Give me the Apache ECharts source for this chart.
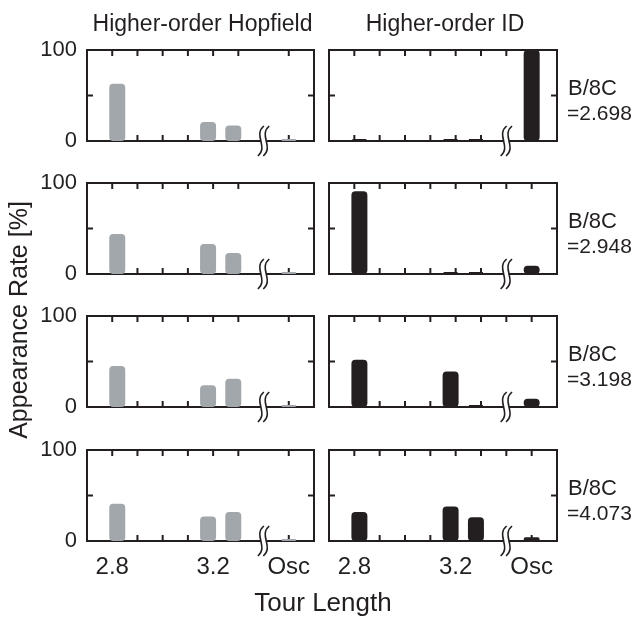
<!DOCTYPE html>
<html>
<head>
<meta charset="utf-8">
<script src="https://cdn.jsdelivr.net/npm/echarts@6/dist/echarts.min.js"></script>
<style>
  html, body { margin: 0; padding: 0; background: #ffffff; }
  #chart { width: 634px; height: 621px; }
</style>
</head>
<body>
<div id="chart"></div>
<script>
// ---------------- data ----------------
const columnTitles = ['Higher-order Hopfield', 'Higher-order ID'];
const bOver8C = ['2.698', '2.948', '3.198', '4.073'];
const tourLengths = [2.82, 3.18, 3.28];           // tour-length bins that occur
const xTickValues = [2.8, 2.9, 3.0, 3.1, 3.2, 3.3, 3.4, 3.5];
const xLabelValues = [2.8, 3.2, 3.5];
const oscLabel = 'Osc';
const yTickValues = [0, 50, 100];
const yLabelValues = [0, 100];

// appearance rate [%] : [2.82, 3.18, 3.28, Osc]
const hopfield2698 = [63, 21, 17, 0];
const hopfield2948 = [44, 33, 23, 0];
const hopfield3198 = [45, 24, 31, 0];
const hopfield4073 = [41, 27, 32, 0];
const id2698 = [0, 0, 0, 100];
const id2948 = [91, 0, 0, 9];
const id3198 = [52, 39, 0, 9];
const id4073 = [32, 38, 26, 4];

// ---------------- layout / style ----------------
const hopfieldRows = [hopfield2698, hopfield2948, hopfield3198, hopfield4073];
const idRows = [id2698, id2948, id3198, id4073];
const INK = '#231f20';
const GRAY = '#a2a7ab';
const FONT = '"Liberation Sans", Arial, Helvetica, sans-serif';
const OSC_SLOT = 3.5;   // x slot where the oscillation bar sits
const BREAK_AT = 3.4;   // axis break mark
const TICK_LEN = 6;
const colLeft = [87, 329];
const colWidth = [227, 228];
const rowTop = [50, 183, 316, 450];
const rowHeight = 91;

const grids = [], xAxes = [], yAxes = [], series = [];
let g = 0;
for (let r = 0; r < 4; r++) {
  for (let c = 0; c < 2; c++) {
    grids.push({
      left: colLeft[c], top: rowTop[r], width: colWidth[c], height: rowHeight,
      show: true, borderColor: INK, borderWidth: 2, backgroundColor: 'transparent'
    });
    const bottomRow = r === 3;
    xAxes.push({
      gridIndex: g, type: 'value', position: 'bottom', min: 2.7, max: 3.6, interval: 0.1,
      axisLine: { show: false }, splitLine: { show: false }, axisTick: { show: false },
      axisLabel: {
        show: bottomRow, customValues: xLabelValues, color: INK, fontSize: 24, fontFamily: FONT, margin: 14,
        formatter: v => (Math.abs(v - OSC_SLOT) < 1e-6 ? oscLabel : Number(v).toFixed(1))
      }
    });
    yAxes.push({
      gridIndex: g, type: 'value', position: 'left', min: 0, max: 100, interval: 50,
      axisLine: { show: false }, splitLine: { show: false }, axisTick: { show: false },
      axisLabel: { show: c === 0, customValues: yLabelValues, color: INK, fontSize: 22, fontFamily: FONT, margin: 10 }
    });
    const vals = c === 0 ? hopfieldRows[r] : idRows[r];
    const xs = tourLengths.concat([OSC_SLOT]);
    const color = c === 0 ? GRAY : INK;
    series.push({
      type: 'bar', xAxisIndex: g, yAxisIndex: g,
      data: xs.map((x, i) => [x, vals[i]]),
      barWidth: 16, barMinHeight: 2, clip: false, silent: true, z: 3,
      itemStyle: { color: color, borderColor: color, borderWidth: 2, borderRadius: 3 }
    });
    // inward ticks on all four sides of the frame
    const topTicks = c === 0 ? xTickValues.filter(v => v !== BREAK_AT) : xTickValues;
    const bottomTicks = xTickValues.filter(v => v !== BREAK_AT);
    series.push({
      type: 'custom', xAxisIndex: g, yAxisIndex: g, data: [[2.7, 0]],
      clip: false, silent: true, z: 2,
      renderItem: function (params, api) {
        const children = [];
        const line = (x1, y1, x2, y2) => children.push({
          type: 'line', shape: { x1, y1, x2, y2 }, style: { stroke: INK, lineWidth: 2 }
        });
        const yTop = api.coord([2.7, 100])[1], yBot = api.coord([2.7, 0])[1];
        const xL = api.coord([2.7, 0])[0], xR = api.coord([3.6, 0])[0];
        topTicks.forEach(v => { const x = api.coord([v, 0])[0]; line(x, yTop, x, yTop + TICK_LEN); });
        bottomTicks.forEach(v => { const x = api.coord([v, 0])[0]; line(x, yBot, x, yBot - TICK_LEN); });
        yTickValues.forEach(v => {
          const y = api.coord([2.7, v])[1];
          line(xL, y, xL + TICK_LEN, y);
          line(xR, y, xR - TICK_LEN, y);
        });
        return { type: 'group', children };
      }
    });
    // axis-break mark
    series.push({
      type: 'custom', xAxisIndex: g, yAxisIndex: g, data: [[BREAK_AT, 0]],
      clip: false, silent: true, z: 5,
      renderItem: function (params, api) {
        const p = api.coord([api.value(0), api.value(1)]);
        const x = p[0], y = p[1];
        const curve = dx => ({
          type: 'bezierCurve',
          shape: { x1: x + dx + 3, y1: y - 15, cpx1: x + dx - 8, cpy1: y - 6, cpx2: x + dx + 8, cpy2: y + 6, x2: x + dx - 3, y2: y + 15 },
          style: { stroke: INK, lineWidth: 1.6, fill: null }
        });
        return {
          type: 'group',
          children: [
            { type: 'rect', shape: { x: x - 2.5, y: y - 2, width: 5, height: 4 }, style: { fill: '#ffffff' } },
            curve(-2.7), curve(2.7)
          ]
        };
      }
    });
    g++;
  }
}

const graphics = [];
columnTitles.forEach((t, c) => {
  graphics.push({
    type: 'text', x: colLeft[c] + colWidth[c] / 2 + 2, y: 25,
    style: { text: t, fontSize: 23, fontFamily: FONT, fill: INK, align: 'center', verticalAlign: 'middle' }
  });
});
bOver8C.forEach((b, r) => {
  const mid = rowTop[r] + rowHeight / 2;
  graphics.push({
    type: 'text', x: 568, y: mid - 7,
    style: { text: 'B/8C', fontSize: 22, fontFamily: FONT, fill: INK, align: 'left', verticalAlign: 'middle' }
  });
  graphics.push({
    type: 'text', x: 567, y: mid + 19,
    style: { text: '=' + b, fontSize: 21, fontFamily: FONT, fill: INK, align: 'left', verticalAlign: 'middle' }
  });
});
graphics.push({
  type: 'text', x: 20, y: 320, rotation: Math.PI / 2,
  style: { text: 'Appearance Rate [%]', fontSize: 25, fontFamily: FONT, fill: INK, align: 'center', verticalAlign: 'middle' }
});
graphics.push({
  type: 'text', x: 323, y: 604,
  style: { text: 'Tour Length', fontSize: 26, fontFamily: FONT, fill: INK, align: 'center', verticalAlign: 'middle' }
});

const chart = echarts.init(document.getElementById('chart'), null, { renderer: 'canvas' });
chart.setOption({
  animation: false,
  backgroundColor: '#ffffff',
  grid: grids,
  xAxis: xAxes,
  yAxis: yAxes,
  series: series,
  graphic: graphics
});
</script>
</body>
</html>
